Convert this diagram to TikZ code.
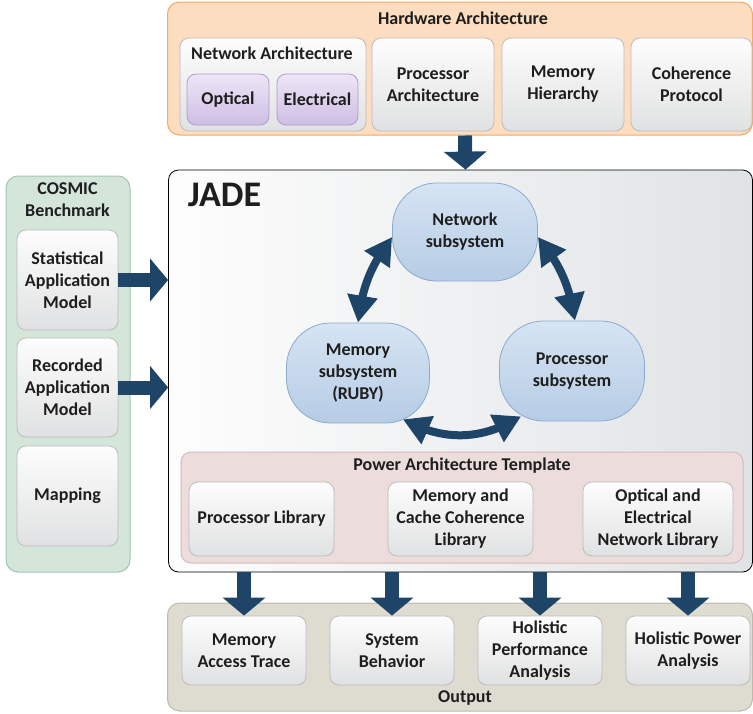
\documentclass[tikz,border=0pt]{standalone}
\usepackage{fontspec}
\setmainfont{Carlito}
\usetikzlibrary{arrows.meta,bending}

\definecolor{ink}{RGB}{30,30,30}
\definecolor{arrowblue}{RGB}{30,68,104}
\definecolor{hwfill}{RGB}{252,221,192}
\definecolor{hwedge}{RGB}{244,168,100}
\definecolor{cardtop}{RGB}{253,253,253}
\definecolor{cardbot}{RGB}{224,225,226}
\definecolor{cardedge}{RGB}{188,188,188}
\definecolor{purtop}{RGB}{238,230,246}
\definecolor{purbot}{RGB}{206,190,228}
\definecolor{puredge}{RGB}{176,155,205}
\definecolor{jadeleft}{RGB}{253,253,253}
\definecolor{jaderight}{RGB}{224,227,229}
\definecolor{cosfill}{RGB}{212,229,217}
\definecolor{cosedge}{RGB}{165,198,175}
\definecolor{subtop}{RGB}{214,228,243}
\definecolor{subbot}{RGB}{182,204,229}
\definecolor{subedge}{RGB}{140,170,205}
\definecolor{patfill}{RGB}{236,220,220}
\definecolor{patedge}{RGB}{214,186,186}
\definecolor{outfill}{RGB}{222,219,209}
\definecolor{outedge}{RGB}{190,185,172}

\tikzset{
  lbl/.style={font=\bfseries\fontsize{18}{22}\selectfont, text=ink, align=center, inner sep=0pt},
  panel/.style={inner sep=0pt, rounded corners=12pt, line width=1pt},
  card/.style={lbl, draw=cardedge, line width=0.8pt, rounded corners=9pt,
    top color=cardtop, bottom color=cardbot},
  purplecard/.style={lbl, draw=puredge, line width=0.8pt, rounded corners=9pt,
    top color=purtop, bottom color=purbot},
  subsys/.style={lbl, draw=subedge, line width=0.8pt, rounded corners=44pt,
    top color=subtop, bottom color=subbot},
  blockarrow/.style={draw=arrowblue, line width=14pt,
    -{Triangle[length=18pt,width=42pt]}},
  cyclearrow/.style={draw=arrowblue, line width=8pt,
    {Triangle[length=27pt,width=29pt]}-{Triangle[length=27pt,width=29pt]}}
}

\begin{document}
\begin{tikzpicture}[x=1pt,y=-1pt]
\useasboundingbox (0,0) rectangle (753,713);

% Hardware architecture panel
\node[panel, draw=hwedge, fill=hwfill, minimum width=585pt, minimum height=133pt] (hw) at (460,68.5) {};
\node[lbl] (hwtitle) at (463,18) {Hardware Architecture};
\node[card, minimum width=186pt, minimum height=93pt] (netarch) at (273,84.5) {};
\node[lbl] (natitle) at (272,53) {Network Architecture};
\node[purplecard, minimum width=82pt, minimum height=51pt] (optical) at (228,99.5) {Optical};
\node[purplecard, minimum width=81pt, minimum height=51pt] (electrical) at (317.5,99.5) {Electrical};
\node[card, minimum width=122pt, minimum height=93pt] (procarch) at (433,84.5) {Processor\\Architecture};
\node[card, minimum width=122pt, minimum height=93pt] (memhier) at (563,84.5) {Memory\\Hierarchy};
\node[card, minimum width=121pt, minimum height=93pt] (coherence) at (691.5,84.5) {Coherence\\Protocol};

% COSMIC benchmark panel
\node[panel, draw=cosedge, fill=cosfill, minimum width=124pt, minimum height=396pt] (cosmic) at (68,374) {};
\node[lbl] (costitle) at (67.5,199.5) {COSMIC\\Benchmark};
\node[card, minimum width=101pt, minimum height=100pt] (stat) at (67.5,280) {Statistical\\Application\\Model};
\node[card, minimum width=101pt, minimum height=99pt] (rec) at (67.5,387.5) {Recorded\\Application\\Model};
\node[card, minimum width=101pt, minimum height=100pt] (mapping) at (67.5,496) {Mapping};

% JADE simulator panel
\node[panel, draw=black, line width=0.8pt, rounded corners=10pt, left color=jadeleft, right color=jaderight,
  minimum width=584pt, minimum height=402pt] (jade) at (460.5,371) {};
\node[font=\bfseries\fontsize{36}{40}\selectfont, text=ink, inner sep=0pt] (jadetitle) at (224.5,195) {JADE};

\node[subsys, minimum width=145pt, minimum height=98pt] (net) at (465,232) {Network\\subsystem};
\node[subsys, minimum width=143pt, minimum height=100pt] (mem) at (358,373) {Memory\\subsystem\\(RUBY)};
\node[subsys, minimum width=145pt, minimum height=100pt] (proc) at (572,371) {Processor\\subsystem};

% Power architecture template
\node[panel, draw=patedge, fill=patfill, rounded corners=10pt, minimum width=562pt, minimum height=111pt] (pat) at (462,507.5) {};
\node[lbl] (pattitle) at (462,466) {Power Architecture Template};
\node[card, minimum width=145pt, minimum height=74pt] (plib) at (261.5,519) {Processor Library};
\node[card, minimum width=145pt, minimum height=74pt] (mlib) at (460.5,519) {Memory and\\Cache Coherence\\Library};
\node[card, minimum width=150pt, minimum height=74pt] (nlib) at (658,519) {Optical and\\Electrical\\Network Library};

% Output panel
\node[panel, draw=outedge, fill=outfill, minimum width=585pt, minimum height=108pt] (out) at (460,657) {};
\node[lbl] (outtitle) at (465,698) {Output};
\node[card, minimum width=124pt, minimum height=69pt] (o1) at (244,650.5) {Memory\\Access Trace};
\node[card, minimum width=124pt, minimum height=69pt] (o2) at (392,650.5) {System\\Behavior};
\node[card, minimum width=124pt, minimum height=69pt] (o3) at (540,650.5) {Holistic\\Performance\\Analysis};
\node[card, minimum width=124pt, minimum height=69pt] (o4) at (688,650.5) {Holistic Power\\Analysis};

% Data flow between the blocks
\draw[blockarrow] ([xshift=5pt]hw.south) -- ([xshift=5pt]jade.north);
\draw[blockarrow] (stat.east) -- (stat.east -| jade.west);
\draw[blockarrow] (rec.east) -- (rec.east -| jade.west);
\foreach \o in {o1,o2,o3,o4}
  \draw[blockarrow] (\o.north |- jade.south) -- (\o.north);

% Interaction among the subsystems
\draw[cyclearrow] (mem.north) to[bend left=15] ([yshift=-5pt]net.west);
\draw[cyclearrow] ([yshift=-5pt]net.east) to[bend left=15] ([xshift=3pt]proc.north);
\draw[cyclearrow] ([shift={(-27pt,4pt)}]mem.south east) to[bend right=30] ([shift={(22pt,5pt)}]proc.south west);
\end{tikzpicture}
\end{document}
